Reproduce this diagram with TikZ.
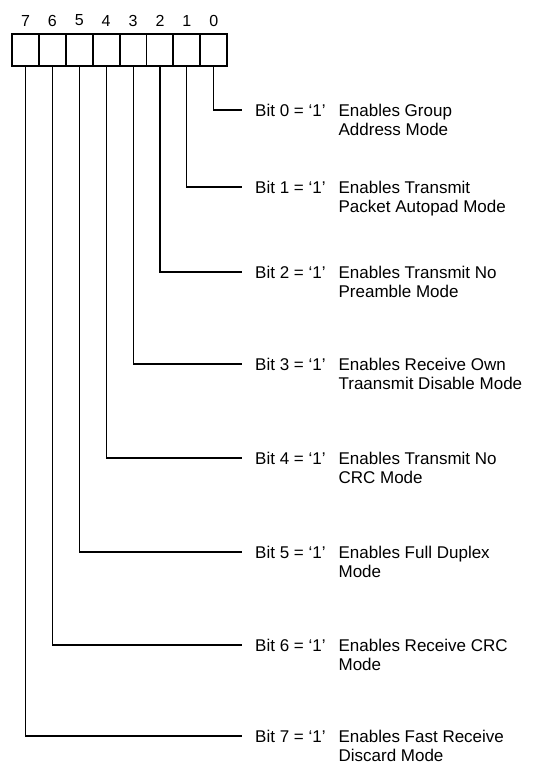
\documentclass[tikz,border=0pt]{standalone}
\usepackage{fontspec}
\setmainfont{Liberation Sans}
\begin{document}
\begin{tikzpicture}[x=1bp,y=-1bp,
  cell/.style={draw, line width=1.9bp, minimum width=26.9bp, minimum height=31.7bp, inner sep=0pt},
  digit/.style={inner sep=0pt, font=\fontsize{16bp}{18bp}\selectfont},
  lbl/.style={inner sep=0pt, anchor=base west, font=\fontsize{17bp}{20.5bp}\selectfont},
  conn/.style={line width=1.1bp}]
\useasboundingbox (0,0) rectangle (536,767);
% cells and digits
\foreach \b in {0,...,7}{
  \pgfmathsetmacro{\cx}{12+(7-\b)*26.9+13.45}
  \node[cell] (c\b) at (\cx,49.8) {};
  \node[digit] (n\b) at (\cx,20.5) {\b};
}
% labels
\newcommand{\bitlabel}[4]{%
  \coordinate (e#1) at (242,#2);
  \node[lbl] (l#1) at (255,#2+6) {\begin{tabular}[t]{@{}l@{\hspace{13bp}}l@{}}Bit #1 = ‘1’ & #3\\[-1bp] & #4\end{tabular}};
  \draw[conn] (c#1.south) |- (e#1);
}
\bitlabel{0}{110}{Enables Group}{Address Mode}
\bitlabel{1}{187}{Enables Transmit}{Packet Autopad Mode}
\bitlabel{2}{272}{Enables Transmit No}{Preamble Mode}
\bitlabel{3}{364}{Enables Receive Own}{Traansmit Disable Mode}
\bitlabel{4}{458}{Enables Transmit No}{CRC Mode}
\bitlabel{5}{552}{Enables Full Duplex}{Mode}
\bitlabel{6}{645}{Enables Receive CRC}{Mode}
\bitlabel{7}{736}{Enables Fast Receive}{Discard Mode}
\end{tikzpicture}
\end{document}
